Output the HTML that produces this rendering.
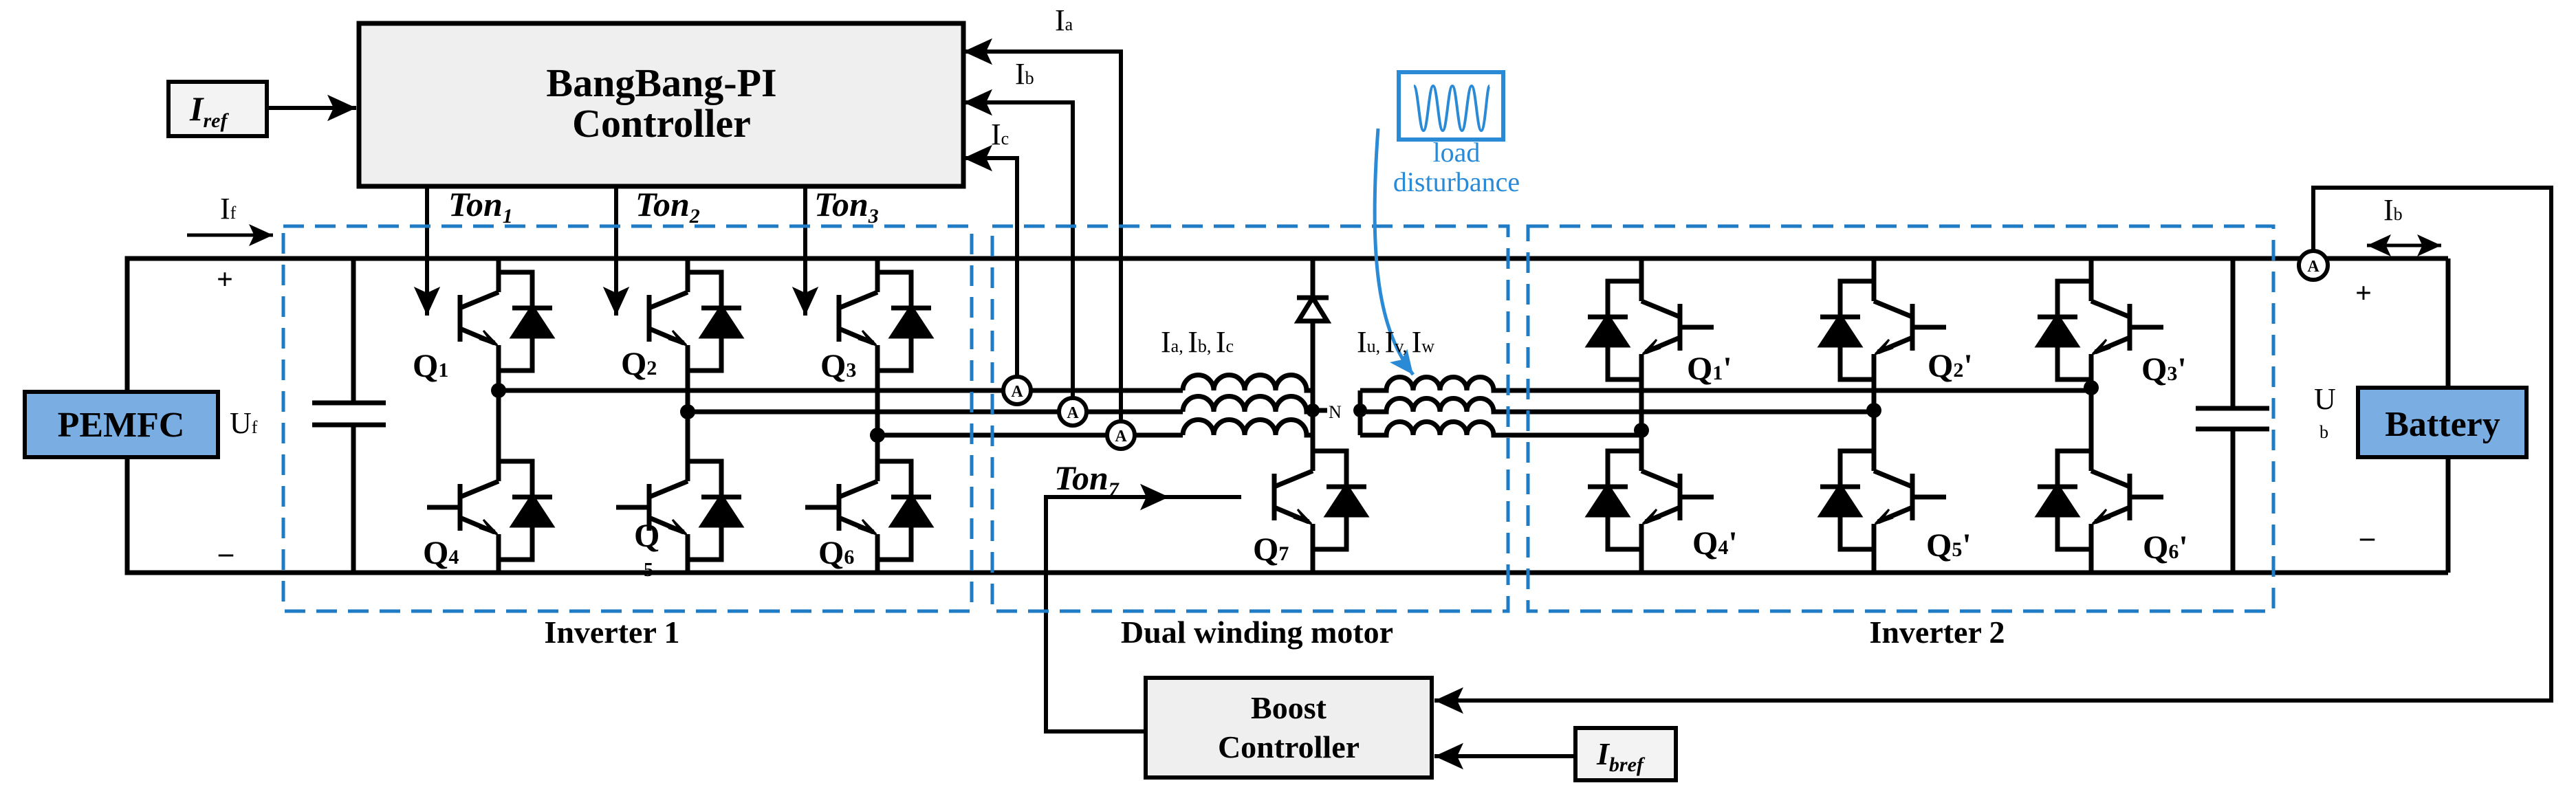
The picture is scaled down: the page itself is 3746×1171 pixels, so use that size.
<!DOCTYPE html>
<html><head><meta charset="utf-8"><style>
html,body{margin:0;padding:0;background:#fff}
svg{display:block}
text{font-family:"Liberation Serif",serif}
</style></head><body>
<svg width="3746" height="1171" viewBox="0 0 3746 1171" xmlns="http://www.w3.org/2000/svg">
<defs>
<marker id="ar" markerWidth="8" markerHeight="8" refX="7" refY="4" orient="auto" markerUnits="strokeWidth"><path d="M0,0.8 L7,4 L0,7.2 L1.5,4 z" fill="#000"/></marker>
<marker id="arb" markerWidth="8" markerHeight="8" refX="7" refY="4" orient="auto" markerUnits="strokeWidth"><path d="M0,0.8 L7,4 L0,7.2 L1.5,4 z" fill="#2a8ad6"/></marker>
<g id="tr" stroke="#000" stroke-width="7" fill="none">
<line x1="-56" y1="-34" x2="-56" y2="34"/>
<line x1="-56" y1="-15" x2="0" y2="-38"/>
<line x1="-56" y1="15" x2="-6" y2="36"/>
<path d="M-2,39 L-22,18 L-12,32 L-28,30 z" fill="#000" stroke-width="3"/>
<polyline points="0,-67 49,-67 49,76 0,76"/>
<line x1="20" y1="-15" x2="78" y2="-15"/>
<path d="M22,26 L76,26 L49,-15 z" fill="#000"/>
</g>
</defs>

<g stroke="#000" stroke-width="7" fill="none">
<polyline points="185,570 185,376 1909,376"/>
<polyline points="185,665 185,833 3560,833"/>
<line x1="1909" y1="376" x2="3560" y2="376"/>
<polyline points="3560,376 3560,564"/>
<polyline points="3560,665 3560,833"/>
<line x1="514" y1="376" x2="514" y2="586"/>
<line x1="514" y1="618" x2="514" y2="833"/>
<line x1="454" y1="586" x2="561" y2="586"/>
<line x1="454" y1="618" x2="561" y2="618"/>
<line x1="3247" y1="376" x2="3247" y2="594"/>
<line x1="3247" y1="624" x2="3247" y2="833"/>
<line x1="3193" y1="594" x2="3300" y2="594"/>
<line x1="3193" y1="624" x2="3300" y2="624"/>
<line x1="725" y1="376" x2="725" y2="425"/><line x1="725" y1="502" x2="725" y2="700"/><line x1="725" y1="777" x2="725" y2="833"/>
<line x1="1000" y1="376" x2="1000" y2="425"/><line x1="1000" y1="502" x2="1000" y2="700"/><line x1="1000" y1="777" x2="1000" y2="833"/>
<line x1="1276" y1="376" x2="1276" y2="425"/><line x1="1276" y1="502" x2="1276" y2="700"/><line x1="1276" y1="777" x2="1276" y2="833"/>
<line x1="2387" y1="376" x2="2387" y2="438"/><line x1="2387" y1="515" x2="2387" y2="685"/><line x1="2387" y1="762" x2="2387" y2="833"/>
<line x1="2725" y1="376" x2="2725" y2="438"/><line x1="2725" y1="515" x2="2725" y2="685"/><line x1="2725" y1="762" x2="2725" y2="833"/>
<line x1="3041" y1="376" x2="3041" y2="438"/><line x1="3041" y1="515" x2="3041" y2="685"/><line x1="3041" y1="762" x2="3041" y2="833"/>
<line x1="1909" y1="376" x2="1909" y2="685"/>
<line x1="1909" y1="762" x2="1909" y2="833"/>
<line x1="725" y1="568" x2="1720" y2="568"/>
<line x1="1000" y1="599" x2="1720" y2="599"/>
<line x1="1276" y1="633" x2="1720" y2="633"/>
<path d="M1720,568 a22.5,22.5 0 0 1 45,0 a22.5,22.5 0 0 1 45,0 a22.5,22.5 0 0 1 45,0 a22.5,22.5 0 0 1 45,0 L1909,568"/>
<path d="M1720,599 a22.5,22.5 0 0 1 45,0 a22.5,22.5 0 0 1 45,0 a22.5,22.5 0 0 1 45,0 a22.5,22.5 0 0 1 45,0 L1909,599"/>
<path d="M1720,633 a22.5,22.5 0 0 1 45,0 a22.5,22.5 0 0 1 45,0 a22.5,22.5 0 0 1 45,0 a22.5,22.5 0 0 1 45,0 L1909,633"/>
<line x1="1978" y1="568" x2="1978" y2="633"/>
<line x1="1909" y1="597" x2="1930" y2="597"/>
<path d="M1978,568 L2016,568 a19.5,19.5 0 0 1 39,0 a19.5,19.5 0 0 1 39,0 a19.5,19.5 0 0 1 39,0 a19.5,19.5 0 0 1 39,0 L3041,568"/>
<path d="M1978,599 L2016,599 a19.5,19.5 0 0 1 39,0 a19.5,19.5 0 0 1 39,0 a19.5,19.5 0 0 1 39,0 a19.5,19.5 0 0 1 39,0 L2725,599"/>
<path d="M1978,633 L2016,633 a19.5,19.5 0 0 1 39,0 a19.5,19.5 0 0 1 39,0 a19.5,19.5 0 0 1 39,0 a19.5,19.5 0 0 1 39,0 L2387,633"/>
<path d="M1909,433 L1888,467 L1930,467 z" fill="#fff"/>
<line x1="1886" y1="433" x2="1932" y2="433"/>
<polyline points="1630,633 1630,75 1401,75" marker-end="url(#ar)" stroke-width="6"/>
<polyline points="1560,599 1560,149 1401,149" marker-end="url(#ar)" stroke-width="6"/>
<polyline points="1479,568 1479,230 1401,230" marker-end="url(#ar)" stroke-width="6"/>
<line x1="621" y1="271" x2="621" y2="459" marker-end="url(#ar)" stroke-width="6"/>
<line x1="896" y1="271" x2="896" y2="459" marker-end="url(#ar)" stroke-width="6"/>
<line x1="1171" y1="271" x2="1171" y2="459" marker-end="url(#ar)" stroke-width="6"/>
<line x1="388" y1="157" x2="518" y2="157" marker-end="url(#ar)" stroke-width="6"/>
<line x1="272" y1="342" x2="397" y2="342" marker-end="url(#ar)" stroke-width="5"/>
<polyline points="1666,1064 1521,1064 1521,723 1700,723" marker-end="url(#ar)" stroke-width="6"/>
<line x1="1700" y1="723" x2="1805" y2="723" stroke-width="6"/>
<polyline points="3364,365 3364,273 3710,273 3710,1019 2086,1019" marker-end="url(#ar)" stroke-width="6"/>
<line x1="3384" y1="376" x2="3560" y2="376"/>
<line x1="2291" y1="1100" x2="2086" y2="1100" marker-end="url(#ar)" stroke-width="6"/>
<line x1="3460" y1="357" x2="3550" y2="357" marker-end="url(#ar)" stroke-width="5"/>
<line x1="3500" y1="357" x2="3442" y2="357" marker-end="url(#ar)" stroke-width="5"/>
</g>

<use href="#tr" transform="translate(725,463)"/>
<use href="#tr" transform="translate(1000,463)"/>
<use href="#tr" transform="translate(1276,463)"/>
<use href="#tr" transform="translate(725,738)"/>
<use href="#tr" transform="translate(1000,738)"/>
<use href="#tr" transform="translate(1276,738)"/>
<g stroke="#000" stroke-width="7">
<line x1="621" y1="738" x2="669" y2="738"/>
<line x1="896" y1="738" x2="944" y2="738"/>
<line x1="1171" y1="738" x2="1220" y2="738"/>
</g>
<use href="#tr" transform="translate(1909,723)"/>
<use href="#tr" transform="translate(2387,476) scale(-1,1)"/>
<use href="#tr" transform="translate(2725,476) scale(-1,1)"/>
<use href="#tr" transform="translate(3041,476) scale(-1,1)"/>
<use href="#tr" transform="translate(2387,723) scale(-1,1)"/>
<use href="#tr" transform="translate(2725,723) scale(-1,1)"/>
<use href="#tr" transform="translate(3041,723) scale(-1,1)"/>
<g stroke="#000" stroke-width="7">
<line x1="2443" y1="476" x2="2492" y2="476"/><line x1="2781" y1="476" x2="2830" y2="476"/><line x1="3097" y1="476" x2="3146" y2="476"/>
<line x1="2443" y1="723" x2="2492" y2="723"/><line x1="2781" y1="723" x2="2830" y2="723"/><line x1="3097" y1="723" x2="3146" y2="723"/>
</g>

<g fill="#000">
<circle cx="725" cy="568" r="11"/><circle cx="1000" cy="599" r="11"/><circle cx="1276" cy="633" r="11"/>
<circle cx="1909" cy="597" r="10"/><circle cx="1978" cy="597" r="10"/>
<circle cx="2387" cy="626" r="11"/><circle cx="2725" cy="597" r="11"/><circle cx="3041" cy="564" r="11"/>
</g>
<g stroke="#000" stroke-width="6" fill="#fff">
<circle cx="1479" cy="568" r="20"/><circle cx="1560" cy="599" r="20"/><circle cx="1630" cy="633" r="20"/><circle cx="3364" cy="386" r="21"/>
</g>
<g font-size="24" text-anchor="middle" font-weight="bold">
<text x="1479" y="577">A</text><text x="1560" y="608">A</text><text x="1630" y="642">A</text><text x="3364" y="395">A</text>
</g>

<g stroke="#1f7bc4" stroke-width="5" fill="none" stroke-dasharray="30,16">
<rect x="412" y="329" width="1001" height="560"/>
<rect x="1443" y="329" width="750" height="560"/>
<rect x="2222" y="329" width="1084" height="560"/>
</g>

<rect x="522" y="34" width="879" height="237" fill="#efefef" stroke="#000" stroke-width="7"/>
<rect x="245" y="119" width="143" height="79" fill="#f3f3f3" stroke="#000" stroke-width="6"/>
<rect x="36" y="570" width="281" height="95" fill="#7aaee2" stroke="#000" stroke-width="6"/>
<rect x="3429" y="564" width="245" height="101" fill="#7aaee2" stroke="#000" stroke-width="6"/>
<rect x="1666" y="986" width="416" height="145" fill="#efefef" stroke="#000" stroke-width="6"/>
<rect x="2291" y="1059" width="146" height="76" fill="#f3f3f3" stroke="#000" stroke-width="6"/>

<rect x="2034" y="105" width="152" height="98" fill="#fff" stroke="#2a8ad6" stroke-width="6"/>
<path d="M2056,125 C2062,125 2064,190 2070,190 C2076,190 2078,125 2084,125 C2090,125 2092,190 2098,190 C2104,190 2106,125 2112,125 C2118,125 2120,190 2126,190 C2132,190 2134,125 2140,125 C2146,125 2148,190 2154,190 C2160,190 2162,125 2166,125" stroke="#2a8ad6" stroke-width="4" fill="none"/>
<path d="M2004,187 C1990,380 2005,480 2055,545" stroke="#2a8ad6" stroke-width="5" fill="none" marker-end="url(#arb)"/>
<g fill="#2a8ad6" font-size="40" text-anchor="middle">
<text x="2118" y="235">load</text><text x="2118" y="278">disturbance</text>
</g>

<g fill="#000" text-anchor="middle" font-weight="bold">
<text x="962" y="140" font-size="58">BangBang-PI</text>
<text x="962" y="199" font-size="58">Controller</text>
<text x="176" y="635" font-size="52">PEMFC</text>
<text x="3552" y="634" font-size="52">Battery</text>
<text x="1874" y="1045" font-size="46">Boost</text>
<text x="1874" y="1102" font-size="46">Controller</text>
<text x="890" y="935" font-size="46">Inverter 1</text>
<text x="1828" y="935" font-size="46">Dual winding motor</text>
<text x="2817" y="935" font-size="46">Inverter 2</text>
</g>
<g fill="#000" font-weight="bold" font-style="italic">
<text x="276" y="175" font-size="50">I<tspan font-size="30" dy="10">ref</tspan></text>
<text x="2322" y="1112" font-size="46">I<tspan font-size="30" dy="10">bref</tspan></text>
<text x="652" y="314" font-size="50">Ton<tspan font-size="30" dy="10">1</tspan></text>
<text x="924" y="314" font-size="50">Ton<tspan font-size="30" dy="10">2</tspan></text>
<text x="1184" y="314" font-size="50">Ton<tspan font-size="30" dy="10">3</tspan></text>
<text x="1533" y="712" font-size="50">Ton<tspan font-size="30" dy="10">7</tspan></text>
</g>
<g fill="#000" font-weight="bold" font-size="48">
<text x="600" y="548">Q<tspan font-size="30">1</tspan></text>
<text x="903" y="545">Q<tspan font-size="30">2</tspan></text>
<text x="1193" y="548">Q<tspan font-size="30">3</tspan></text>
<text x="615" y="820">Q<tspan font-size="30">4</tspan></text>
<text x="922" y="795">Q</text><text x="936" y="838" font-size="28">5</text>
<text x="1190" y="820">Q<tspan font-size="30">6</tspan></text>
<text x="1822" y="815">Q<tspan font-size="30">7</tspan></text>
<text x="2453" y="552">Q<tspan font-size="30">1</tspan>'</text>
<text x="2803" y="548">Q<tspan font-size="30">2</tspan>'</text>
<text x="3114" y="553">Q<tspan font-size="30">3</tspan>'</text>
<text x="2461" y="806">Q<tspan font-size="30">4</tspan>'</text>
<text x="2801" y="809">Q<tspan font-size="30">5</tspan>'</text>
<text x="3116" y="812">Q<tspan font-size="30">6</tspan>'</text>
<text x="315" y="420" font-size="42">+</text>
<text x="318" y="818" font-size="42">–</text>
<text x="3425" y="440" font-size="42">+</text>
<text x="3432" y="795" font-size="42">–</text>
</g>
<g fill="#000" font-size="44">
<text x="1534" y="44">I<tspan font-size="26">a</tspan></text>
<text x="1476" y="122">I<tspan font-size="26">b</tspan></text>
<text x="1441" y="210">I<tspan font-size="26">c</tspan></text>
<text x="320" y="318">I<tspan font-size="26">f</tspan></text>
<text x="334" y="630">U<tspan font-size="26">f</tspan></text>
<text x="3365" y="595">U</text>
<text x="3373" y="637" font-size="26">b</text>
<text x="3466" y="320">I<tspan font-size="26">b</tspan></text>
<text x="1688" y="512">I<tspan font-size="26">a, </tspan>I<tspan font-size="26">b, </tspan>I<tspan font-size="26">c</tspan></text>
<text x="1973" y="512">I<tspan font-size="26">u, </tspan>I<tspan font-size="26">v, </tspan>I<tspan font-size="26">w</tspan></text>
<text x="1932" y="608" font-size="26">N</text>
</g>
</svg>
</body></html>
